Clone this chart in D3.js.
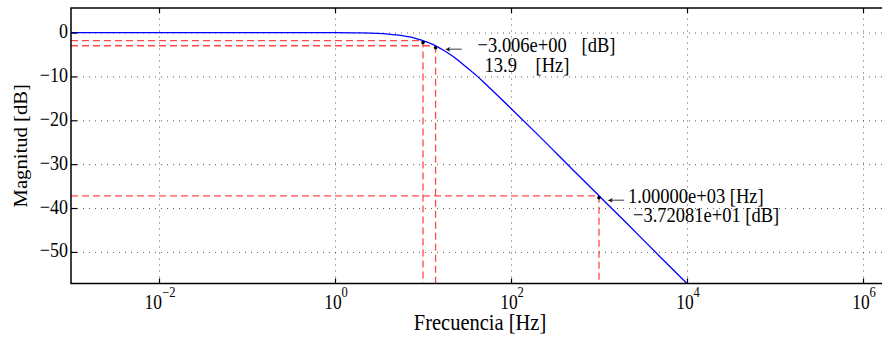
<!DOCTYPE html>
<html lang='en'>
<head>
    <meta charset='utf-8'>
    <title>Magnitud</title>
    <script src="https://d3js.org/d3.v7.min.js"></script>
    <style>
        body { margin: 0; background: white; }
        text { font-family: "Liberation Serif", "Times New Roman", serif; fill: black; }
        .grid line { stroke: #444; stroke-width: 0.9px; stroke-dasharray: 1,5; }
        .grid path { display: none; }
    </style>
</head>
<body>
    <div id='chart'></div>
    <script>
        // curve
        const freqHz = [0.001, 0.01, 0.1, 0.5, 1, 2, 3, 4, 5, 6, 7, 8, 10, 12, 13.9, 16, 20, 25, 30, 40, 50, 70, 100, 200, 500, 1000, 2000, 5000, 10000];
        const magDb = [0, 0, 0, -0.01, -0.02, -0.09, -0.2, -0.35, -0.54, -0.75, -1.0, -1.26, -1.83, -2.44, -3.01, -3.7, -4.9, -6.3, -7.6, -9.7, -11.5, -14.3, -17.3, -23.2, -31.2, -37.2, -43.2, -51.2, -57.2];

        // marked points and guide lines
        const markFreq = [10, 13.9, 1000];
        const markDb = [-1.83, -3.006, -37.2081];

        const xTicks = [1e-2, 1e0, 1e2, 1e4, 1e6];
        const xTickExp = ["−2", "0", "2", "4", "6"];
        const yTicks = [0, -10, -20, -30, -40, -50];

        let margin = {top: 8, left: 71, bottom: 283.5}
        let size = {width: 882, height: 341}
        const stretch = 1.15; // text in the picture is drawn a bit tall

        let svg = d3.select("#chart")
                    .append("svg")
                        .attr("width", size.width)
                        .attr("height", size.height);

        let x = d3.scaleLog()
                .domain([1e-3, 1e7])
                .range([margin.left, margin.left + 880]);

        let y = d3.scaleLinear()
                .domain([-57.2, 5.6])
                .range([margin.bottom, margin.top]);

        const plotW = 880, plotH = margin.bottom - margin.top;

        let addText = (tx, ty, str, fs, anchor) => {
            return svg.append("text")
                .attr("transform", `translate(${tx},${ty}) scale(1,${stretch})`)
                .style("font-size", fs + "px")
                .style("text-anchor", anchor || "start")
                .text(str);
        }

        // grid
        svg.append("g")
            .attr("class", "grid")
            .attr("transform", `translate(0,${margin.bottom})`)
            .call(d3.axisBottom(x).tickValues(xTicks).tickSize(-plotH).tickFormat(""));
        svg.append("g")
            .attr("class", "grid")
            .attr("transform", `translate(${margin.left},0)`)
            .call(d3.axisLeft(y).tickValues(yTicks).tickSize(-plotW).tickFormat(""));

        // red guide lines
        let guides = svg.append("g")
            .attr("stroke", "#ff2a2a")
            .attr("stroke-opacity", 0.85)
            .attr("stroke-width", 1.3)
            .attr("stroke-dasharray", "7,4")
            .attr("fill", "none");
        markFreq.forEach((f, i) => {
            guides.append("line")
                .attr("x1", margin.left).attr("x2", x(f))
                .attr("y1", y(markDb[i])).attr("y2", y(markDb[i]));
            guides.append("line")
                .attr("x1", x(f)).attr("x2", x(f))
                .attr("y1", y(markDb[i])).attr("y2", margin.bottom);
        });

        // curve
        let line = d3.line()
            .x((d, i) => x(freqHz[i]))
            .y(d => y(d))
            .curve(d3.curveMonotoneX);
        svg.append("path")
            .datum(magDb)
            .attr("d", line)
            .attr("fill", "none")
            .attr("stroke", "#0000ff")
            .attr("stroke-width", 1.3);

        // points
        svg.append("g")
            .selectAll("circle")
            .data(markFreq)
            .enter()
            .append("circle")
                .attr("cx", d => x(d))
                .attr("cy", (d, i) => y(markDb[i]) + 2)
                .attr("r", 1.8)
                .attr("fill", "black");

        // frame
        svg.append("path")
            .attr("d", `M${size.width},${margin.top}H${margin.left}V${margin.bottom}H${size.width}`)
            .attr("fill", "none")
            .attr("stroke", "black")
            .attr("stroke-width", 1.5);

        // ticks (inside)
        let xAxis = svg.append("g")
            .attr("transform", `translate(0,${margin.bottom})`)
            .call(d3.axisBottom(x).tickValues(xTicks).tickSize(-5).tickFormat(""));
        let xTop = svg.append("g")
            .attr("transform", `translate(0,${margin.top})`)
            .call(d3.axisTop(x).tickValues(xTicks).tickSize(-5).tickFormat(""));
        let yAxis = svg.append("g")
            .attr("transform", `translate(${margin.left},0)`)
            .call(d3.axisLeft(y).tickValues(yTicks).tickSize(-6).tickFormat(""));
        [xAxis, xTop, yAxis].forEach(a => {
            a.select(".domain").remove();
            a.selectAll(".tick text").remove();
            a.selectAll(".tick line").attr("stroke", "black").attr("stroke-width", 1.2);
        });

        // tick labels 10^n
        xTicks.forEach((d, i) => {
            let t = addText(x(d) + 1, 309, null, 17.5, "middle");
            t.append("tspan").text("10");
            t.append("tspan")
                .attr("dy", -10.5)
                .style("font-size", "12.5px")
                .text(xTickExp[i]);
        });
        let fmt = d3.format("d");
        yTicks.forEach(d => {
            addText(margin.left - 3, y(d) + 5.5, fmt(d), 18, "end");
        });

        // axis titles
        addText(480, 330, "Frecuencia [Hz]", 20.5, "middle");
        svg.append("text")
            .attr("transform", `translate(27,${(margin.top + margin.bottom) / 2}) rotate(-90) scale(${stretch},1)`)
            .style("text-anchor", "middle")
            .style("font-size", "18px")
            .text("Magnitud [dB]");

        // annotations
        let arrow = (ax, ay) => {
            svg.append("text")
                .attr("transform", `translate(${ax},${ay}) scale(1.5,1)`)
                .style("font-size", "18px")
                .text("←");
        }
        let p1x = x(markFreq[1]), p1y = y(markDb[1]);
        arrow(p1x + 5, p1y + 6);
        addText(p1x + 42, p1y + 6, "−3.006e+00", 18.5);
        addText(p1x + 146, p1y + 6, "[dB]", 18.5);
        addText(p1x + 49, p1y + 26.5, "13.9", 18.5);
        addText(p1x + 100, p1y + 26.5, "[Hz]", 18.5);

        let p2x = x(markFreq[2]), p2y = y(markDb[2]);
        arrow(p2x + 4, p2y + 7);
        addText(p2x + 29, p2y + 7.5, "1.00000e+03 [Hz]", 18.5);
        addText(p2x + 34, p2y + 26.5, "−3.72081e+01 [dB]", 18.5);
    </script>
</body>
</html>
